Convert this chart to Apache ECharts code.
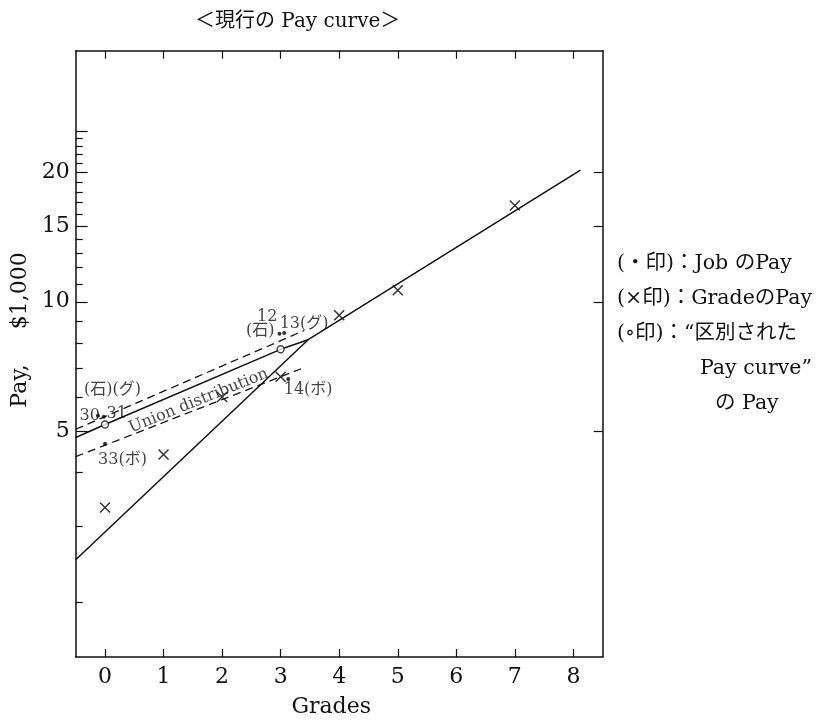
<!DOCTYPE html>
<html><head><meta charset="utf-8">
<script src="https://cdn.jsdelivr.net/npm/echarts@6/dist/echarts.min.js"></script>
<style>html,body{margin:0;padding:0;background:#fff}#c{width:826px;height:723px}</style>
</head><body><div id="c"></div>
<script>
// ---- data (Pay in $1,000) ----
const gradeTicks = [0,1,2,3,4,5,6,7,8];
const payLabelTicks = [5,10,15,20];
const payMajorTicks = [5,10,15,20,25];
const payMinorTicks = [2,3,4,6,7,8,9,11,12,13,14,16,17,18,19,21,22,23,24];

// current Pay curve (solid)
const payCurveGrade = [-0.5, 3.47, 8.12];
const payCurvePay   = [2.51, 8.16, 20.24];
// differentiated Pay curve (solid, through circles)
const diffCurveGrade = [-0.5, 0, 3, 3.47];
const diffCurvePay   = [4.83, 5.18, 7.75, 8.16];
// Union distribution band (dashed)
const unionUpperGrade = [-0.5, 3.40];
const unionUpperPay   = [5.05, 8.57];
const unionLowerGrade = [-0.5, 3.37];
const unionLowerPay   = [4.36, 7.0];
// Grade pay (x marks)
const gradeX   = [0, 1, 2, 3, 4, 5, 7];
const gradePay = [3.32, 4.41, 6.0, 6.69, 9.3, 10.64, 16.75];
// differentiated curve pay (o marks)
const circleX   = [0, 3];
const circlePay = [5.18, 7.75];
// job pay (dots)
const jobNames = ['30','31','33','12','13','14'];
const jobGrade = [-0.12, -0.02, 0.0, 2.98, 3.06, 3.13];
const jobPay   = [5.43, 5.40, 4.67, 8.43, 8.46, 6.61];
// annotation texts
const noteText  = ['(石)(グ)','30','31','33(ボ)','12','(石)','13(グ)','14(ボ)'];
const noteGrade = [0.13, -0.26, 0.20, 0.30, 2.77, 2.65, 3.40, 3.47];
const notePay   = [6.25, 5.44, 5.47, 4.28, 9.22, 8.57, 8.90, 6.25];
const bandText = 'Union distribution';
const bandGrade = 1.60, bandPay = 5.88;

const zip = (a,b) => a.map((v,i)=>[v,b[i]]);
const SERIF = "'DejaVu Serif','Noto Sans CJK JP',serif";
const YMIN = 1.49, YMAX = 38.4;
const INK = '#111';

const chart = echarts.init(document.getElementById('c'), null, {renderer:'canvas'});
const baseY = {type:'log', min:YMIN, max:YMAX, splitLine:{show:false}, axisLine:{show:false, onZero:false}, axisTick:{show:false}, axisLabel:{show:false}};
chart.setOption({
  animation:false,
  backgroundColor:'#fff',
  title:{text:'＜現行の Pay curve＞', left:190, top:7, textStyle:{fontFamily:SERIF, fontWeight:'normal', fontSize:20, color:INK}},
  grid:{left:75.7, right:223.3, top:50.7, bottom:58, containLabel:false},
  xAxis:[
    {type:'value', min:-0.5, max:8.5, position:'bottom', name:'Grades', nameLocation:'middle', nameGap:39,
     nameTextStyle:{fontFamily:SERIF, fontSize:22, color:INK, padding:[0,16,0,0]},
     axisLine:{show:true, onZero:false, lineStyle:{color:INK, width:1.5}},
     axisTick:{show:true, inside:true, length:8, lineStyle:{color:INK, width:1.2}, customValues:gradeTicks},
     axisLabel:{show:true, fontFamily:SERIF, fontSize:22, color:INK, margin:9, customValues:gradeTicks},
     splitLine:{show:false}},
    {type:'value', min:-0.5, max:8.5, position:'top',
     axisLine:{show:true, onZero:false, lineStyle:{color:INK, width:1.5}},
     axisTick:{show:true, inside:true, length:8, lineStyle:{color:INK, width:1.2}, customValues:gradeTicks},
     axisLabel:{show:false}, splitLine:{show:false}}
  ],
  yAxis:[
    Object.assign({}, baseY, {position:'left',
      axisLine:{show:true, onZero:false, lineStyle:{color:INK, width:1.5}},
      axisTick:{show:true, inside:true, length:12, lineStyle:{color:INK, width:1.2}, customValues:payMajorTicks},
      axisLabel:{show:true, fontFamily:SERIF, fontSize:22, color:INK, margin:6, customValues:payLabelTicks}}),
    Object.assign({}, baseY, {position:'left', offset:0,
      axisTick:{show:true, inside:true, length:7, lineStyle:{color:INK, width:1.2}, customValues:payMinorTicks}}),
    Object.assign({}, baseY, {position:'right', offset:0,
      axisLine:{show:true, onZero:false, lineStyle:{color:INK, width:1.5}},
      axisTick:{show:true, inside:true, length:9, lineStyle:{color:INK, width:1.2}, customValues:payLabelTicks}})
  ],
  graphic:[
    {type:'text', x:20, y:330, rotation:Math.PI/2,
     style:{text:'Pay,     $1,000', font:"22px "+SERIF, fill:INK, textAlign:'center', textVerticalAlign:'middle'}},
    {type:'group', left:617, top:253, children:[
      {type:'text', x:0, y:0,   style:{text:'(・印)：Job のPay', font:"20.5px "+SERIF, fill:INK}},
      {type:'text', x:0, y:35,  style:{text:'(×印)：GradeのPay', font:"20.5px "+SERIF, fill:INK}},
      {type:'text', x:0, y:70,  style:{text:'(∘印)：“区別された', font:"20.5px "+SERIF, fill:INK}},
      {type:'text', x:83, y:105, style:{text:'Pay curve”', font:"20.5px "+SERIF, fill:INK}},
      {type:'text', x:98, y:140, style:{text:'の Pay', font:"20.5px "+SERIF, fill:INK}}
    ]}
  ],
  series:[
    {type:'line', name:'Pay curve', data:zip(payCurveGrade,payCurvePay), symbol:'none', lineStyle:{color:INK, width:1.5}, silent:true},
    {type:'line', name:'区別されたPay curve', data:zip(diffCurveGrade,diffCurvePay), symbol:'none', lineStyle:{color:INK, width:1.5}, silent:true},
    {type:'line', name:'Union upper', data:zip(unionUpperGrade,unionUpperPay), symbol:'none', lineStyle:{color:INK, width:1.3, type:[8,5]}, silent:true},
    {type:'line', name:'Union lower', data:zip(unionLowerGrade,unionLowerPay), symbol:'none', lineStyle:{color:INK, width:1.3, type:[8,5]}, silent:true},
    {type:'scatter', name:'GradeのPay', data:zip(gradeX,gradePay), symbol:'path://M0,0L10,10M10,0L0,10', symbolSize:10,
     itemStyle:{color:'rgba(0,0,0,0)', borderColor:'#000', borderWidth:1.5}},
    {type:'scatter', name:'区別 Pay', data:zip(circleX,circlePay), symbol:'circle', symbolSize:7,
     itemStyle:{color:'#fff', borderColor:INK, borderWidth:1.4}, z:5},
    {type:'scatter', name:'JobのPay', data:zip(jobGrade,jobPay), symbol:'circle', symbolSize:4, itemStyle:{color:'#000'}, z:6},
    {type:'scatter', name:'notes', symbolSize:0, silent:true,
     data:noteText.map((t,i)=>({name:t, value:[noteGrade[i], notePay[i]]})),
     label:{show:true, position:'inside', formatter:'{b}', fontFamily:SERIF, fontSize:16, color:INK}},
    {type:'scatter', name:'band', symbolSize:0, silent:true,
     data:[{name:bandText, value:[bandGrade, bandPay]}],
     label:{show:true, position:'inside', formatter:'{b}', rotate:22, fontFamily:SERIF, fontSize:16, color:INK}}
  ]
});
</script></body></html>
